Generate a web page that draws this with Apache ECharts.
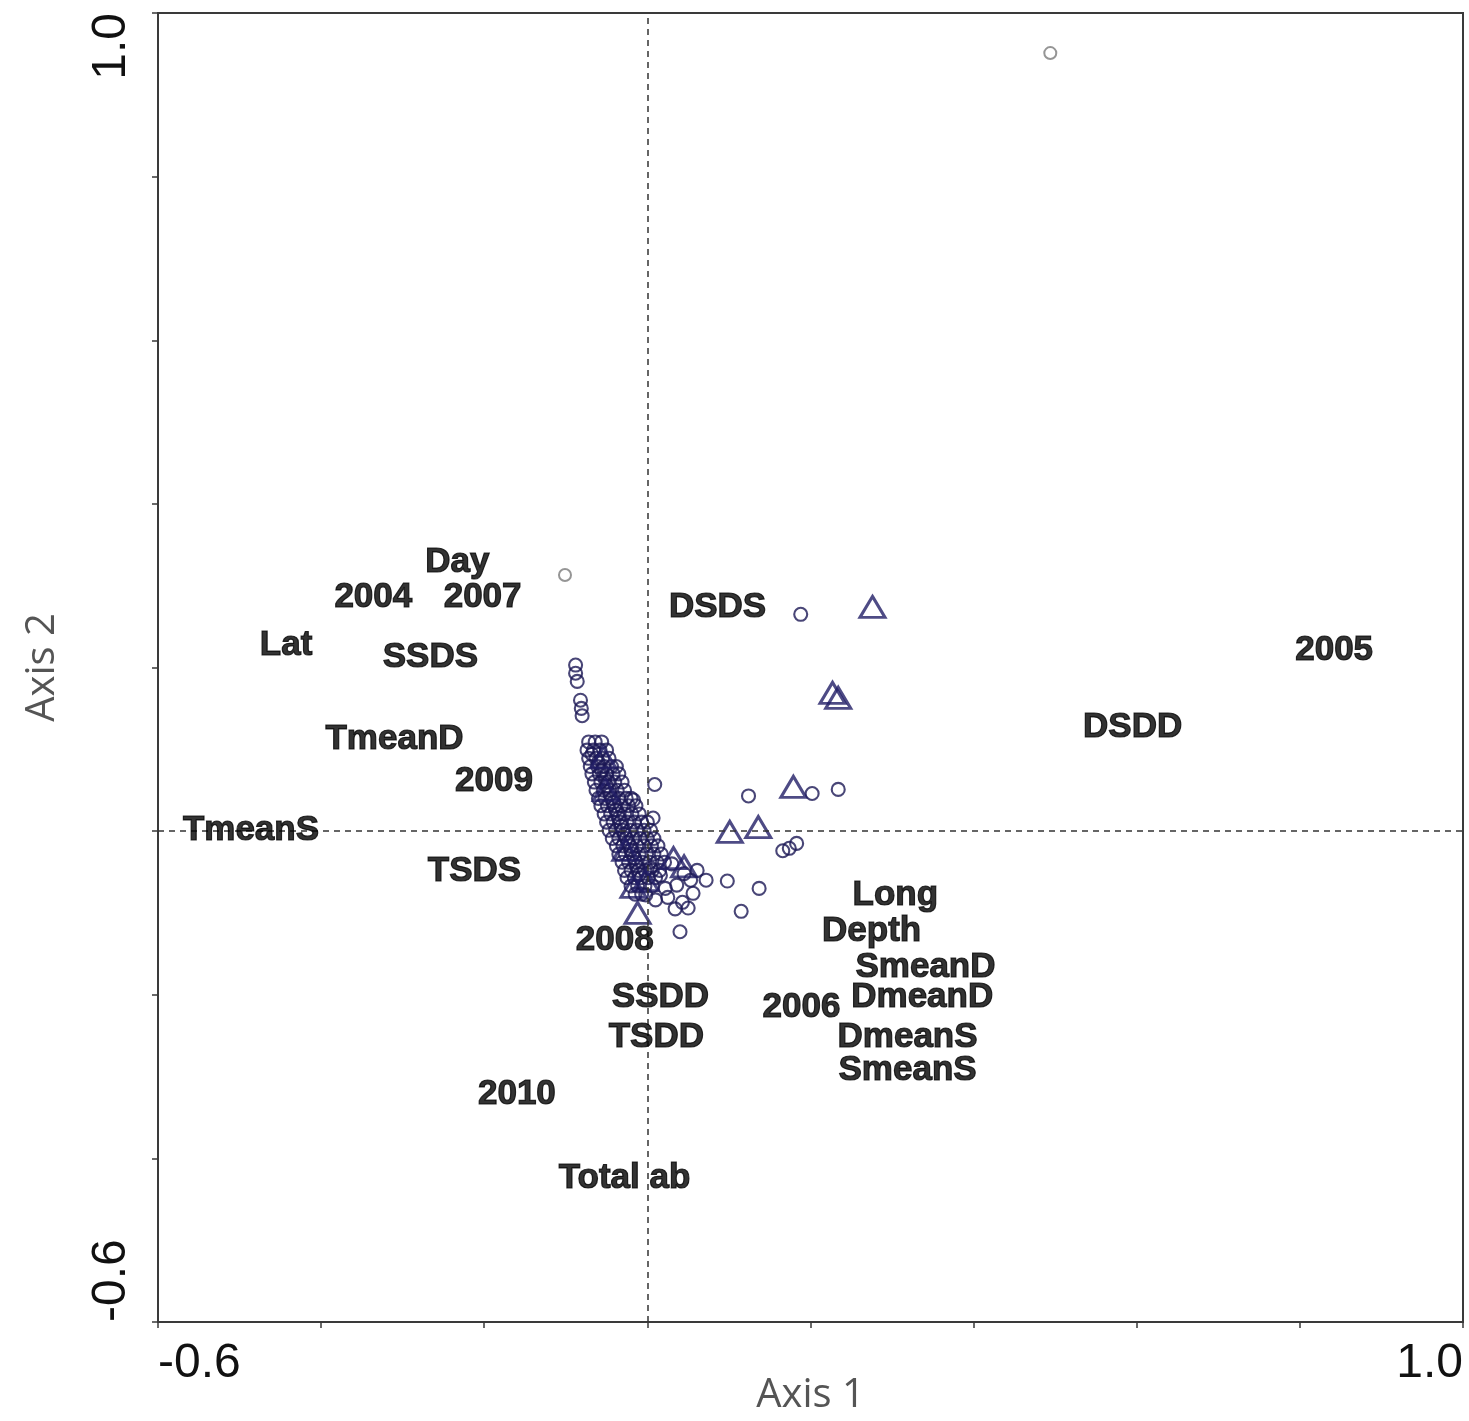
<!DOCTYPE html>
<html>
<head>
<meta charset="utf-8">
<script src="https://cdn.jsdelivr.net/npm/echarts@6/dist/echarts.min.js"></script>
<style>
html,body{margin:0;padding:0;background:#fff;}
#chart{width:1469px;height:1421px;}
</style>
</head>
<body>
<div id="chart"></div>
<script>
// Axis ticks
const axisMin = -0.6;
const axisMax = 1.0;
const axisStep = 0.2;
const tickLabels = ['-0.6', '1.0'];

// Variable / year labels (biplot text)
const labelNames = ['Day','2004','2007','Lat','SSDS','DSDS','2005','DSDD','TmeanD','2009','TmeanS','TSDS','Long','Depth','2008','SmeanD','DmeanD','SSDD','2006','TSDD','DmeanS','SmeanS','2010','Total ab'];
const labelX = [-0.233,-0.336,-0.202,-0.443,-0.266,0.086,0.842,0.595,-0.310,-0.188,-0.486,-0.212,0.304,0.275,-0.040,0.341,0.337,0.016,0.189,0.011,0.319,0.319,-0.160,-0.028];
const labelY = [0.329,0.286,0.286,0.227,0.213,0.274,0.221,0.127,0.112,0.061,0.001,-0.049,-0.079,-0.123,-0.134,-0.167,-0.203,-0.203,-0.215,-0.252,-0.252,-0.292,-0.322,-0.424];

// Faint sample circles
const fadedCircles = [[0.494,0.951],[-0.101,0.313]];

// Sample circles (scattered)
const scatteredCircles = [
  [0.188,0.265],[-0.088,0.203],[-0.088,0.193],[-0.086,0.183],[-0.082,0.160],[-0.081,0.150],[-0.080,0.141],
  [0.009,0.057],[0.124,0.043],[0.234,0.051],[0.202,0.046],[0.007,0.016],[-0.017,0.038],
  [0.166,-0.024],[0.174,-0.021],[0.183,-0.015],[0.098,-0.061],[0.137,-0.070],[0.115,-0.098],
  [0.040,-0.123],[0.072,-0.060],[0.056,-0.076],[0.050,-0.094],[0.025,-0.081],[0.010,-0.084],
  [0.036,-0.066],[0.053,-0.060],[0.016,-0.054],[-0.002,-0.078],[0.004,-0.045],[0.061,-0.048],[0.043,-0.087],
  [0.030,-0.040],[0.045,-0.052],[0.022,-0.070],[0.034,-0.095]
];

// Sample circles (dense band)
const bandCircles = [
  [-0.072,0.109],[-0.064,0.109],[-0.056,0.109],
  [-0.074,0.099],[-0.066,0.099],[-0.058,0.099],[-0.050,0.099],
  [-0.072,0.089],[-0.063,0.089],[-0.055,0.089],[-0.047,0.089],
  [-0.070,0.079],[-0.061,0.079],[-0.053,0.079],[-0.044,0.079],[-0.038,0.079],
  [-0.068,0.070],[-0.059,0.070],[-0.050,0.070],[-0.042,0.070],[-0.035,0.070],
  [-0.065,0.060],[-0.057,0.060],[-0.048,0.060],[-0.040,0.060],[-0.031,0.060],
  [-0.063,0.050],[-0.054,0.050],[-0.046,0.050],[-0.037,0.050],[-0.028,0.050],
  [-0.060,0.040],[-0.052,0.040],[-0.043,0.040],[-0.035,0.040],[-0.026,0.040],[-0.020,0.040],
  [-0.057,0.031],[-0.049,0.031],[-0.040,0.031],[-0.032,0.031],[-0.023,0.031],[-0.014,0.031],
  [-0.053,0.021],[-0.045,0.021],[-0.036,0.021],[-0.028,0.021],[-0.019,0.021],[-0.010,0.021],
  [-0.050,0.011],[-0.042,0.011],[-0.033,0.011],[-0.025,0.011],[-0.016,0.011],[-0.007,0.011],[0.000,0.011],
  [-0.047,0.001],[-0.039,0.001],[-0.030,0.001],[-0.021,0.001],[-0.013,0.001],[-0.004,0.001],[0.004,0.001],
  [-0.043,-0.009],[-0.035,-0.009],[-0.026,-0.009],[-0.018,-0.009],[-0.009,-0.009],[0.000,-0.009],[0.008,-0.009],
  [-0.038,-0.018],[-0.030,-0.018],[-0.021,-0.018],[-0.013,-0.018],[-0.004,-0.018],[0.005,-0.018],[0.013,-0.018],
  [-0.035,-0.028],[-0.027,-0.028],[-0.018,-0.028],[-0.010,-0.028],[-0.001,-0.028],[0.008,-0.028],[0.017,-0.028],
  [-0.031,-0.038],[-0.023,-0.038],[-0.014,-0.038],[-0.006,-0.038],[0.003,-0.038],[0.012,-0.038],[0.021,-0.038],
  [-0.028,-0.048],[-0.020,-0.048],[-0.011,-0.048],[-0.003,-0.048],[0.006,-0.048],[0.015,-0.048],
  [-0.025,-0.057],[-0.016,-0.057],[-0.008,-0.057],[0.001,-0.057],[0.010,-0.057],
  [-0.020,-0.067],[-0.012,-0.067],[-0.003,-0.067],[0.006,-0.067],
  [-0.015,-0.077],[-0.007,-0.077],
  [-0.068,0.094],[-0.060,0.084],[-0.056,0.074],[-0.052,0.064],[-0.050,0.055],[-0.046,0.045],
  [-0.042,0.035],[-0.039,0.026],[-0.035,0.016],[-0.032,0.006],[-0.028,-0.004],[-0.024,-0.014],
  [-0.020,-0.023],[-0.016,-0.033],[-0.013,-0.043],[-0.010,-0.053]
];

// Sample triangles
const triangles = [
  [0.276,0.274],[0.227,0.169],[0.234,0.163],[0.179,0.054],[0.101,-0.001],[0.136,0.005],
  [-0.012,-0.100],[-0.017,-0.068],[0.032,-0.033],[0.045,-0.043],[-0.054,0.090],[-0.051,0.050],
  [-0.027,-0.023],[-0.002,-0.060]
];

const navy = '#1b1855';
const tickFont = 'Liberation Sans, Arial, sans-serif';

function tickFormatter(v) {
  if (Math.abs(v - axisMin) < 1e-9) return tickLabels[0];
  if (Math.abs(v - axisMax) < 1e-9) return tickLabels[1];
  return '';
}

const chart = echarts.init(document.getElementById('chart'), null, {renderer: 'canvas'});
chart.setOption({
  animation: false,
  backgroundColor: '#ffffff',
  grid: {left: 158, top: 13, right: 6, bottom: 99, show: true, borderColor: '#3a3a3a', borderWidth: 2,
    containLabel: false, outerBoundsMode: 'none'},
  xAxis: {
    type: 'value', min: axisMin, max: axisMax, interval: axisStep,
    name: 'Axis 1', nameLocation: 'middle', nameGap: 54, nameMoveOverlap: false,
    nameTextStyle: {fontSize: 40, color: '#555', fontFamily: 'Open Sans, sans-serif', verticalAlign: 'top'},
    axisLine: {show: true, onZero: false, lineStyle: {color: '#3a3a3a', width: 2}},
    axisTick: {show: true, length: 6, lineStyle: {color: '#3a3a3a', width: 1.5}},
    splitLine: {show: false},
    axisLabel: {formatter: tickFormatter, fontSize: 48, color: '#111', fontFamily: tickFont, margin: 18,
      alignMinLabel: 'left', alignMaxLabel: 'right', showMinLabel: true, showMaxLabel: true}
  },
  yAxis: {
    type: 'value', min: axisMin, max: axisMax, interval: axisStep,
    name: 'Axis 2', nameLocation: 'middle', nameGap: 95, nameRotate: 90, nameMoveOverlap: false,
    nameTextStyle: {fontSize: 40, color: '#555', fontFamily: 'Open Sans, sans-serif'},
    axisLine: {show: true, onZero: false, lineStyle: {color: '#3a3a3a', width: 2}},
    axisTick: {show: true, length: 6, lineStyle: {color: '#3a3a3a', width: 1.5}},
    splitLine: {show: false},
    axisLabel: {formatter: tickFormatter, fontSize: 48, color: '#111', fontFamily: tickFont, margin: 22, rotate: 90,
      alignMinLabel: 'left', alignMaxLabel: 'right', showMinLabel: true, showMaxLabel: true}
  },
  series: [
    {
      type: 'scatter', name: 'faded', data: fadedCircles, symbol: 'circle', symbolSize: 12,
      itemStyle: {color: 'rgba(0,0,0,0)', borderColor: '#7a7a7a', borderWidth: 2},
      silent: true, z: 2,
      markLine: {
        silent: true, symbol: 'none', label: {show: false},
        lineStyle: {type: [6, 5], color: '#333', width: 1.5},
        data: [{xAxis: 0}, {yAxis: 0}]
      }
    },
    {
      type: 'scatter', name: 'circles', data: scatteredCircles.concat(bandCircles), symbol: 'circle', symbolSize: 13,
      itemStyle: {color: 'rgba(0,0,0,0)', borderColor: navy, borderWidth: 2.1},
      silent: true, z: 3
    },
    {
      type: 'scatter', name: 'triangles', data: triangles, symbol: 'triangle', symbolSize: [25, 21],
      itemStyle: {color: 'rgba(0,0,0,0)', borderColor: '#221e66', borderWidth: 3},
      silent: true, z: 4
    },
    {
      type: 'scatter', name: 'labels', symbol: 'circle', symbolSize: 2, silent: true, z: 10,
      itemStyle: {color: 'rgba(0,0,0,0)'},
      data: labelNames.map((n, i) => ({name: n, value: [labelX[i], labelY[i]]})),
      label: {show: true, position: 'inside', formatter: '{b}', fontSize: 35, fontWeight: 'bold',
        color: '#000000', textBorderColor: '#000000', textBorderWidth: 1.2,
        fontFamily: 'Liberation Sans, Arial, sans-serif'},
      labelLayout: {hideOverlap: false}
    }
  ]
});
</script>
</body>
</html>
